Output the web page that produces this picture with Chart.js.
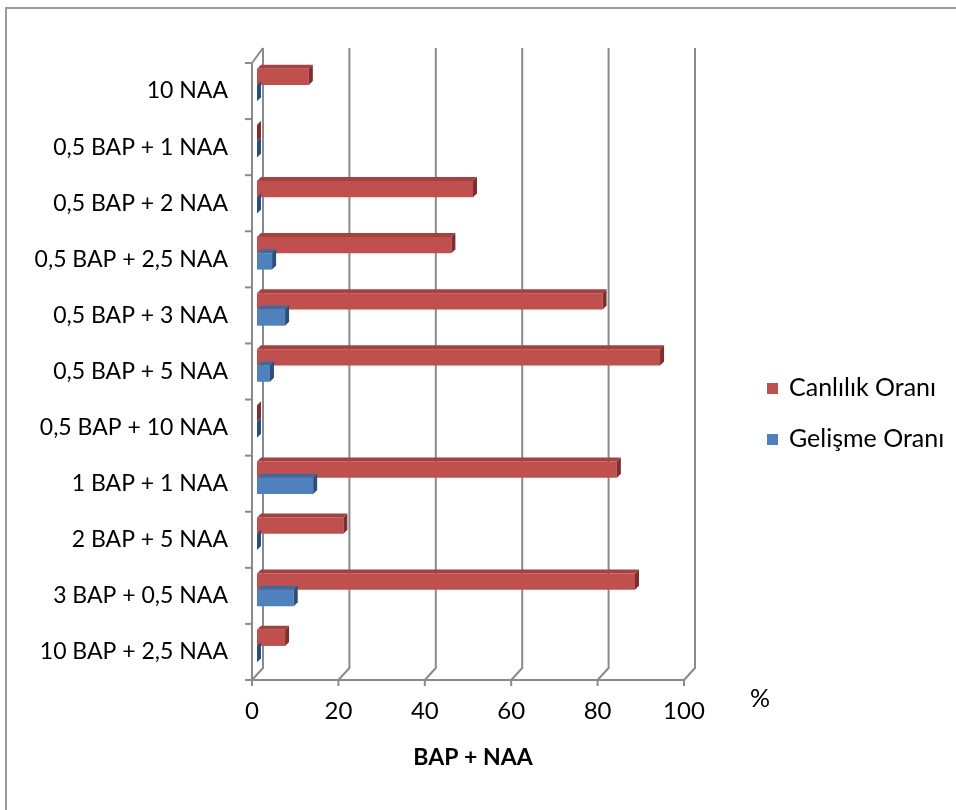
<!DOCTYPE html>
<html>
<head>
<meta charset="utf-8">
<script src="https://cdn.jsdelivr.net/npm/chart.js@4/dist/chart.umd.min.js"></script>
<style>
  html, body { margin: 0; padding: 0; background: #fff; }
  #wrap { position: relative; width: 956px; height: 810px; overflow: hidden; font-family: Lato, "Open Sans", sans-serif; }
  #frame { position: absolute; left: 5px; top: 7px; width: 1000px; height: 900px; border-left: 2px solid #9a9a9a; border-top: 2px solid #9a9a9a; box-sizing: border-box; }
  #c { position: absolute; left: 0; top: 0; }
  .leg { position: absolute; left: 767px; font-size: 25px; color: #000; line-height: 1; white-space: nowrap; }
  .leg span.box { display: inline-block; width: 11px; height: 11px; margin-right: 11px; vertical-align: middle; position: relative; top: -1px; }
  #pct { position: absolute; left: 750px; top: 682px; font-size: 25px; color: #000; }
</style>
</head>
<body>
<div id="wrap">
  <div id="frame"></div>
  <canvas id="c" width="956" height="810"></canvas>
  <div id="legend"></div>
  <div id="pct">%</div>
</div>
<script>
// ---- data ----
const categories = [
  "10 NAA",
  "0,5 BAP + 1 NAA",
  "0,5 BAP + 2 NAA",
  "0,5 BAP + 2,5 NAA",
  "0,5 BAP + 3 NAA",
  "0,5 BAP + 5 NAA",
  "0,5 BAP + 10 NAA",
  "1 BAP + 1 NAA",
  "2 BAP + 5 NAA",
  "3 BAP + 0,5 NAA",
  "10 BAP + 2,5 NAA"
];
const canlilikOrani = [12, 0, 50, 45, 80, 93.3, 0, 83.3, 20, 87.5, 6.5];
const gelismeOrani  = [0, 0, 0, 3.5, 6.5, 3, 0, 13, 0, 8.5, 0];
const seriesNames = ["Canlılık Oranı", "Gelişme Oranı"];
const xTicks = [0, 20, 40, 60, 80, 100];
const xTitle = "BAP + NAA";

const FONT = "Lato, 'Open Sans', sans-serif";
const colors = {
  front: ["#C0504D", "#4F81BD"],
  top:   ["#A3423F", "#3E6A9E"],
  side:  ["#7E2F2D", "#2C4E78"]
};
const GRID = "#8a8a8a";

// 3D-look plugin: back wall gridlines, front axes, bar depth faces
const threeD = {
  id: "threeD",
  beforeDatasetsDraw(chart) {
    const ctx = chart.ctx, a = chart.chartArea, xs = chart.scales.x;
    const front = v => xs.getPixelForValue(v) - 5;
    const back = v => xs.getPixelForValue(v) + 6;
    const fTop = a.top + 6, fBot = a.bottom + 6, bTop = a.top - 9, bBot = a.bottom - 6;
    ctx.save();
    ctx.strokeStyle = GRID;
    ctx.lineWidth = 2;
    xTicks.forEach(v => {
      ctx.beginPath();
      ctx.moveTo(back(v), bTop);
      ctx.lineTo(back(v), bBot);
      ctx.lineTo(front(v), fBot);
      ctx.stroke();
    });
    ctx.beginPath();
    ctx.moveTo(back(0), bTop);
    ctx.lineTo(front(0), fTop);
    ctx.lineTo(front(0), fBot);
    ctx.stroke();
    ctx.beginPath();
    ctx.moveTo(front(0) - 7, fBot);
    ctx.lineTo(front(100), fBot);
    ctx.stroke();
    xTicks.forEach(v => {
      ctx.beginPath();
      ctx.moveTo(front(v), fBot);
      ctx.lineTo(front(v), fBot + 6);
      ctx.stroke();
    });
    const n = categories.length;
    for (let i = 0; i <= n; i++) {
      const y = fTop + i * (fBot - fTop) / n;
      ctx.beginPath();
      ctx.moveTo(front(0) - 7, y);
      ctx.lineTo(front(0), y);
      ctx.stroke();
    }
    ctx.restore();
  },
  afterDatasetsDraw(chart) {
    const ctx = chart.ctx;
    const d = 4;
    ctx.save();
    for (let di = chart.data.datasets.length - 1; di >= 0; di--) {
      const meta = chart.getDatasetMeta(di);
      meta.data.forEach(el => {
        const p = el.getProps(["x", "y", "base", "height"], true);
        const t = p.y - p.height / 2, b = p.y + p.height / 2;
        const x0 = Math.min(p.base, p.x), x1 = Math.max(p.base, p.x);
        ctx.fillStyle = colors.top[di];
        ctx.beginPath();
        ctx.moveTo(x0, t); ctx.lineTo(x1, t); ctx.lineTo(x1 + d, t - d); ctx.lineTo(x0 + d, t - d);
        ctx.closePath(); ctx.fill();
        ctx.fillStyle = colors.side[di];
        ctx.beginPath();
        ctx.moveTo(x1, t); ctx.lineTo(x1 + d, t - d); ctx.lineTo(x1 + d, b - d); ctx.lineTo(x1, b);
        ctx.closePath(); ctx.fill();
      });
    }
    ctx.restore();
  }
};

const ctx = document.getElementById("c").getContext("2d");
new Chart(ctx, {
  type: "bar",
  data: {
    labels: categories,
    datasets: [
      { label: seriesNames[0], data: canlilikOrani, backgroundColor: colors.front[0], borderWidth: 0 },
      { label: seriesNames[1], data: gelismeOrani, backgroundColor: colors.front[1], borderWidth: 0 }
    ]
  },
  options: {
    indexAxis: "y",
    responsive: false,
    animation: false,
    devicePixelRatio: 1,
    categoryPercentage: 0.58,
    barPercentage: 1,
    layout: { padding: { left: 0, top: 57, right: 267, bottom: 0 } },
    plugins: {
      legend: { display: false },
      tooltip: { enabled: false }
    },
    scales: {
      y: {
        grid: { display: false, drawTicks: false },
        border: { display: false },
        afterFit(scale) { scale.width = 257; },
        ticks: { color: "#000", font: { family: FONT, size: 23 }, padding: 29, labelOffset: 6 }
      },
      x: {
        min: 0, max: 100,
        afterBuildTicks(scale) { scale.ticks = xTicks.map(v => ({ value: v })); },
        afterFit(scale) { scale.height = 136; },
        grid: { display: false, drawTicks: false },
        border: { display: false },
        ticks: { color: "#000", font: { family: FONT, size: 24 }, padding: 23, labelOffset: -5, maxRotation: 0 },
        title: { display: true, text: xTitle, color: "#000", font: { family: FONT, size: 23, weight: "bold" }, padding: { top: 0, bottom: 39 } }
      }
    }
  },
  plugins: [threeD]
});

const leg = document.getElementById("legend");
const legTops = [374, 425];
seriesNames.forEach((name, i) => {
  const div = document.createElement("div");
  div.className = "leg";
  div.style.top = legTops[i] + "px";
  div.innerHTML = '<span class="box" style="background:' + colors.front[i] + '"></span>' + name;
  leg.appendChild(div);
});
</script>
</body>
</html>
